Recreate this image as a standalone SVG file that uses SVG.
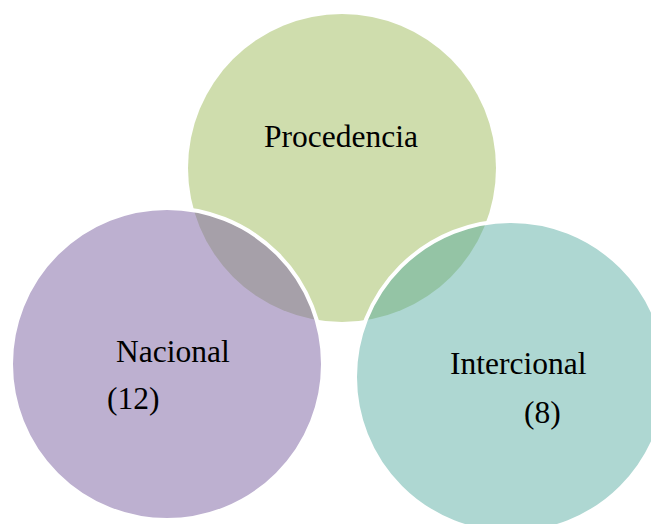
<svg xmlns="http://www.w3.org/2000/svg" width="651" height="524" viewBox="0 0 651 524">
  <style>
    .lbl { font-family: "Liberation Serif", "Times New Roman", serif; font-size: 31.5px; fill: #000000; }
    .ring { stroke: #ffffff; stroke-width: 4; }
  </style>
  <rect x="0" y="0" width="651" height="524" fill="#ffffff"/>
  <g id="procedencia">
    <circle cx="342" cy="168" r="154" fill="#CFDDAD"/>
    <text class="lbl" x="264" y="147">Procedencia</text>
  </g>
  <g id="nacional">
    <circle class="ring" cx="167" cy="364" r="156" fill="rgb(128,103,165)" fill-opacity="0.52"/>
    <text class="lbl" x="116" y="362">Nacional</text>
    <text class="lbl" x="107" y="409">(12)</text>
  </g>
  <g id="intercional">
    <circle class="ring" cx="511" cy="377" r="156" fill="rgb(79,168,157)" fill-opacity="0.46"/>
    <text class="lbl" x="450" y="374">Intercional</text>
    <text class="lbl" x="524" y="423">(8)</text>
  </g>
  <g id="connectors"></g>
</svg>
